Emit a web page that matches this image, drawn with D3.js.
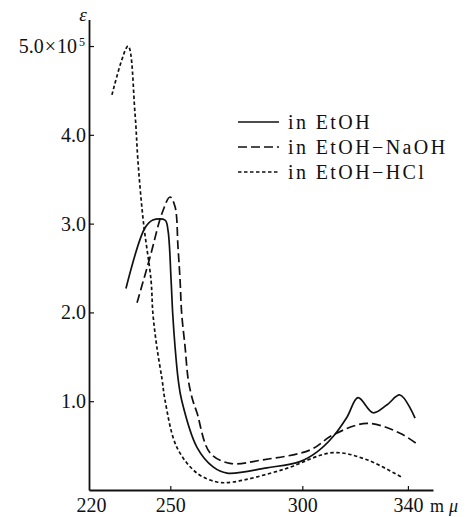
<!DOCTYPE html>
<html>
<head>
<meta charset="utf-8">
<script src="https://cdn.jsdelivr.net/npm/d3@7"></script>
<style>
  body { margin: 0; background: #fff; }
  svg { display: block; }
  text { font-family: "Liberation Serif", "DejaVu Serif", serif; fill: #111; }
</style>
</head>
<body>
<div id="chart"></div>
<script>
// wavelength (m\u03bc) and epsilon (x10^5)
const etohX = [233.2, 240.4, 243.4, 248.0, 249.1, 250.3, 250.9, 251.8, 253.0, 254.3, 260.1, 266.2, 271.5, 286.6, 299.1, 305.6, 311.6, 316.9, 321.1, 326.8, 332.1, 337.0, 342.7];
const etohY = [2.27, 2.95, 3.04, 3.04, 2.93, 2.36, 1.99, 1.61, 1.24, 1.01, 0.48, 0.26, 0.19, 0.25, 0.32, 0.43, 0.60, 0.82, 1.04, 0.87, 0.96, 1.07, 0.81];

const naohX = [237.4, 242.3, 246.9, 249.9, 251.8, 252.9, 253.7, 254.3, 255.6, 256.8, 258.5, 260.1, 265.0, 272.6, 285.1, 302.9, 311.6, 324.5, 337.0, 343.8];
const naohY = [2.11, 2.62, 3.12, 3.30, 3.19, 2.74, 2.36, 1.99, 1.61, 1.24, 1.01, 0.87, 0.42, 0.30, 0.34, 0.45, 0.62, 0.75, 0.64, 0.51];

const hclX = [227.9, 234.0, 236.6, 237.8, 239.8, 242.7, 243.4, 244.9, 246.9, 248.0, 252.5, 260.1, 267.7, 273.7, 292.7, 311.6, 324.5, 338.1];
const hclY = [4.45, 5.0, 4.25, 3.68, 3.02, 2.36, 1.99, 1.61, 1.24, 1.01, 0.48, 0.19, 0.09, 0.09, 0.23, 0.42, 0.34, 0.135];

const seriesNames = ["in EtOH", "in EtOH\u2212NaOH", "in EtOH\u2212HCl"];
const xTicks = [220, 250, 300, 340];
const yTicks = [1, 2, 3, 4, 5];

const width = 469, height = 517;

const svg = d3.select("#chart")
    .append("svg")
    .attr("width", width)
    .attr("height", height);

const x = d3.scaleLinear().domain([219.2, 349.5]).range([89, 433]);
const y = d3.scaleLinear().domain([0, 5.3]).range([490, 19.4]);

// y axis, ticks pointing inward
const yAxis = svg.append("g")
    .attr("transform", "translate(" + x(219.2) + ",0)")
    .call(d3.axisLeft(y).tickValues(yTicks).tickSize(-5).tickSizeOuter(0).tickPadding(3)
        .tickFormat(d => d === 5 ? "" : d3.format(".1f")(d)));
yAxis.selectAll("text").style("font-size", "20px").style("font-family", "Liberation Serif");

// the top label carries the exponent
const topLabel = yAxis.append("text")
    .attr("x", -4)
    .attr("y", y(5))
    .attr("dy", "0.35em")
    .attr("text-anchor", "end")
    .style("font-size", "20px")
    .attr("fill", "#111");
topLabel.append("tspan").text("5.0");
topLabel.append("tspan").attr("dx", 1).text("\u00d7");
topLabel.append("tspan").attr("dx", 1).text("10");
topLabel.append("tspan").attr("dy", "-0.6em").attr("dx", 2).style("font-size", "12px").text("5");

const xAxis = svg.append("g")
    .attr("transform", "translate(0," + y(0) + ")")
    .call(d3.axisBottom(x).tickValues(xTicks).tickSize(-4).tickSizeOuter(0).tickPadding(8)
        .tickFormat(d3.format("d")));
xAxis.selectAll("text").style("font-size", "20px").style("font-family", "Liberation Serif");
xAxis.selectAll(".tick").filter(d => d === 220).select("line").remove();

svg.selectAll(".domain").attr("stroke", "#111").attr("stroke-width", 1.8);
svg.selectAll(".tick line").attr("stroke", "#111").attr("stroke-width", 1.2);

svg.append("text")
    .attr("x", 83)
    .attr("y", 21)
    .attr("text-anchor", "middle")
    .style("font-size", "19px")
    .style("font-style", "italic")
    .text("\u03b5");

const unit = svg.append("text")
    .attr("x", 430)
    .attr("y", 512)
    .style("font-size", "18px");
unit.append("tspan").text("m");
unit.append("tspan").attr("dx", 5).style("font-style", "italic").text("\u03bc");

const line = d3.line()
    .x(d => x(d[0]))
    .y(d => y(d[1]))
    .curve(d3.curveCatmullRom.alpha(0.5));

const series = [
    { pts: d3.zip(etohX, etohY), dash: null },
    { pts: d3.zip(naohX, naohY), dash: "9,4" },
    { pts: d3.zip(hclX, hclY), dash: "3.5,2.5" }
];

svg.append("g").selectAll("path")
    .data(series)
    .join("path")
    .attr("d", d => line(d.pts))
    .attr("fill", "none")
    .attr("stroke", "#111")
    .attr("stroke-width", 1.7)
    .attr("stroke-dasharray", d => d.dash);

// legend
const legend = svg.append("g").selectAll("g")
    .data(series)
    .join("g")
    .attr("transform", (d, i) => "translate(238," + (122 + i * 25) + ")");

legend.append("line")
    .attr("x1", 0).attr("x2", 41)
    .attr("stroke", "#111")
    .attr("stroke-width", 1.5)
    .attr("stroke-dasharray", d => d.dash);

legend.append("text")
    .attr("x", 50)
    .attr("dy", "0.35em")
    .style("font-size", "20px")
    .style("letter-spacing", "2.4px")
    .text((d, i) => seriesNames[i]);
</script>
</body>
</html>
